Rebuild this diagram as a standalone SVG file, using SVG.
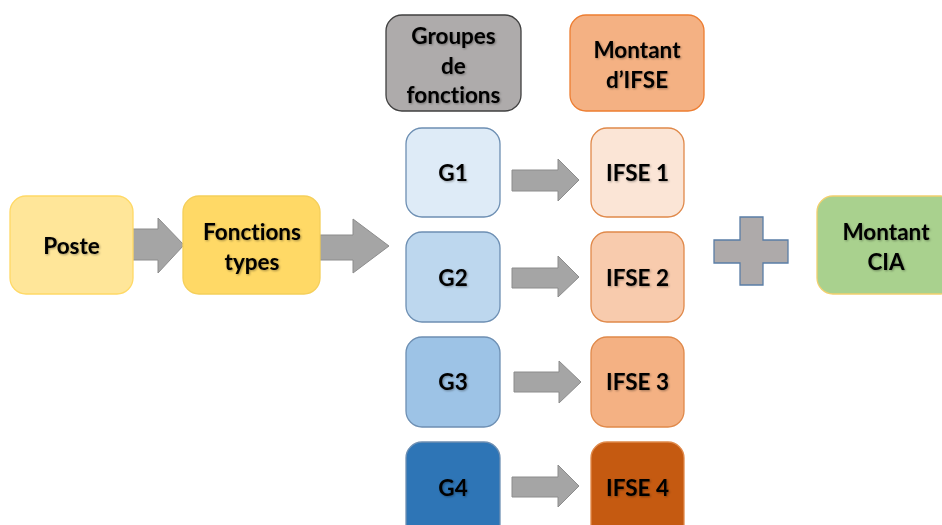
<svg xmlns="http://www.w3.org/2000/svg" width="942" height="525" viewBox="0 0 942 525">
<defs>
<filter id="ts" x="-20%" y="-30%" width="140%" height="160%">
<feDropShadow dx="1" dy="1" stdDeviation="0.8" flood-color="#000" flood-opacity="0.35"/>
</filter>
<style>
.t{font-family:Lato,"Open Sans","Liberation Sans",sans-serif;font-weight:bold;font-size:22.5px;fill:#000;text-anchor:middle;font-variant-ligatures:none;filter:url(#ts)}
.arr{fill:#A5A5A5;stroke:#8C8C8C;stroke-width:1}
.g{stroke:#6D8FB3;stroke-width:1.3}
.i{stroke:#E0894A;stroke-width:1.3}
</style>
</defs>
<rect width="942" height="525" fill="#fff"/>
<g id="connectors">
<polygon class="arr" points="132,229 158,229 158,218 184,245 158,273 158,260 132,260"/>
<polygon class="arr" points="320,235 353,235 353,219 389,246 353,273 353,260 320,260"/>
<polygon class="arr" points="512,170 558,170 558,159 579,180 558,201 558,191 512,191"/>
<polygon class="arr" points="512,268 558,268 558,256 579,277 558,297 558,288 512,288"/>
<polygon class="arr" points="514,372 559,372 559,361 581,382 559,403 559,392 514,392"/>
<polygon class="arr" points="512,477 558,477 558,465 579,486 558,507 558,497 512,497"/>
</g>
<g id="poste">
<rect x="10" y="196" width="123" height="98" rx="16" fill="#FFE699" stroke="#FFD966" stroke-width="1.3"/>
<text class="t" x="71.5" y="254">Poste</text>
</g>
<g id="fonctions-types">
<rect x="183" y="196" width="137" height="98" rx="16" fill="#FFD966" stroke="#F5CF5A" stroke-width="1.3"/>
<text class="t" x="252" y="240">Fonctions</text>
<text class="t" x="252" y="270">types</text>
</g>
<g id="groupes">
<rect x="386" y="15" width="135" height="96" rx="16" fill="#AEABAB" stroke="#404040" stroke-width="1.3"/>
<text class="t" x="453.5" y="44">Groupes</text>
<text class="t" x="453.5" y="74">de</text>
<text class="t" x="453.5" y="103">fonctions</text>
</g>
<g id="montant-ifse">
<rect x="570" y="15" width="134" height="96" rx="16" fill="#F4B183" stroke="#ED7D31" stroke-width="1.3"/>
<text class="t" x="637" y="58">Montant</text>
<text class="t" x="637" y="88">d’IFSE</text>
</g>
<g id="g1">
<rect class="g" x="406" y="128" width="94" height="89" rx="16" fill="#DEEBF7"/>
<text class="t" x="453" y="181">G1</text>
</g>
<g id="g2">
<rect class="g" x="406" y="232" width="94" height="90" rx="16" fill="#BDD7EE"/>
<text class="t" x="453" y="286">G2</text>
</g>
<g id="g3">
<rect class="g" x="406" y="337" width="94" height="90" rx="16" fill="#9DC3E6"/>
<text class="t" x="453" y="390">G3</text>
</g>
<g id="g4">
<rect class="g" x="406" y="442" width="94" height="100" rx="16" fill="#2E75B6"/>
<text class="t" x="453" y="496">G4</text>
</g>
<g id="ifse1">
<rect class="i" x="591" y="128" width="93" height="89" rx="16" fill="#FBE5D6"/>
<text class="t" x="637.5" y="181">IFSE 1</text>
</g>
<g id="ifse2">
<rect class="i" x="591" y="232" width="93" height="90" rx="16" fill="#F8CBAD"/>
<text class="t" x="637.5" y="286">IFSE 2</text>
</g>
<g id="ifse3">
<rect class="i" x="591" y="337" width="93" height="90" rx="16" fill="#F4B183"/>
<text class="t" x="637.5" y="390">IFSE 3</text>
</g>
<g id="ifse4">
<rect class="i" x="591" y="442" width="93" height="100" rx="16" fill="#C55A11"/>
<text class="t" x="637.5" y="496">IFSE 4</text>
</g>
<g id="plus">
<polygon points="740,217 763,217 763,240 788,240 788,263 763,263 763,285 740,285 740,263 714,263 714,240 740,240" fill="#AEAAAA" stroke="#5A7DA6" stroke-width="1.3"/>
</g>
<g id="montant-cia">
<rect x="817" y="196" width="140" height="98" rx="16" fill="#A9D18E" stroke="#F2CF6E" stroke-width="1.3"/>
<text class="t" x="886" y="240">Montant</text>
<text class="t" x="886" y="270">CIA</text>
</g>
</svg>
